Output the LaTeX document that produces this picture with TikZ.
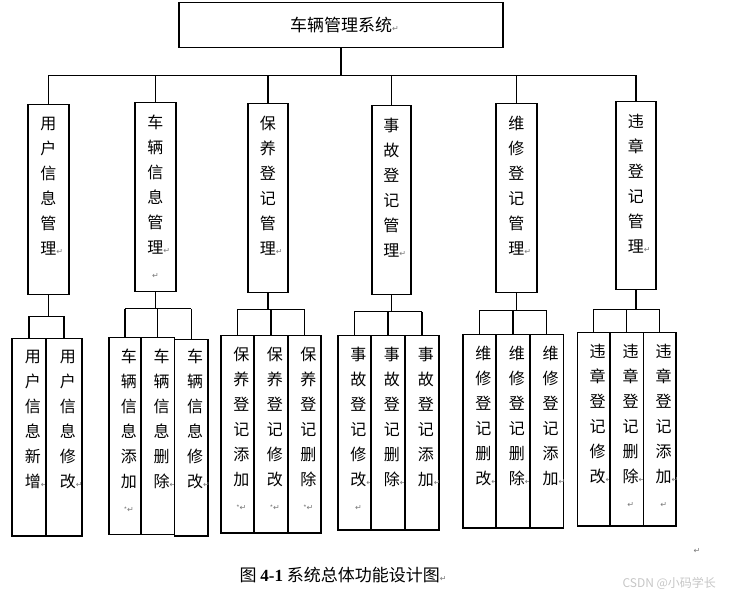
\documentclass[tikz,border=0pt]{standalone}
\usepackage{fontspec}
\setmainfont{Noto Sans CJK SC}
\newfontfamily\symfont{DejaVu Sans}
\newfontfamily\numfont{Liberation Serif}
\usetikzlibrary{calc}
\definecolor{mkGray}{RGB}{120,120,120}
% 段落标记 与 竖排文字
\newcommand{\ret}{{\symfont\fontsize{8}{8}\selectfont\color{mkGray}↵}}
\newcommand{\dotret}{{\color{mkGray}\fontsize{7}{7}\selectfont *}\ret}
\newcommand{\retline}[1]{\leavevmode\hbox to 0pt{\hss#1\hss}}
\newcommand{\vlab}[5]{\parbox[c][#1pt][t]{#2pt}{\centering\leftskip=#3pt plus 1fil\fontsize{16}{25}\selectfont\vspace*{#4pt}#5}}

\begin{document}
\begin{tikzpicture}[x=1pt, y=-1pt, font=\fontsize{16}{16}\selectfont]
\tikzset{
  sysbox/.style={draw, line width=1.2pt, inner sep=0pt, minimum width=324pt, minimum height=45pt, anchor=north west},
  modbox/.style={draw, line width=1.2pt, inner sep=0pt, anchor=north west},
  link/.style={line width=1.2pt}
}
\useasboundingbox (0,0) rectangle (729,596);
% 顶层
\node[sysbox, font=\fontsize{17}{17}\selectfont] (sys) at (178.4,2.3) {车辆管理系统\rlap{\ret}};
% 二级模块（竖排）
\node[modbox] (m1) at (27.3,104.3) {\vlab{190}{41}{0}{12.5}{用\\户\\信\\息\\管\\理\rlap{\ret}}};
\node[modbox] (m2) at (134.3,102.3) {\vlab{189}{41}{0}{12.5}{车\\辆\\信\\息\\管\\理\rlap{\ret}\\\retline{\ret}}};
\node[modbox] (m3) at (247.3,103.3) {\vlab{189}{40}{0}{12.5}{保\\养\\登\\记\\管\\理\rlap{\ret}}};
\node[modbox] (m4) at (371.3,105.3) {\vlab{189}{39}{0}{12.5}{事\\故\\登\\记\\管\\理\rlap{\ret}}};
\node[modbox] (m5) at (495.3,103.3) {\vlab{189}{41}{0}{12.5}{维\\修\\登\\记\\管\\理\rlap{\ret}}};
\node[modbox] (m6) at (615.3,101.3) {\vlab{187.7}{40}{0}{12.5}{违\\章\\登\\记\\管\\理\rlap{\ret}}};
% 子功能
\node[modbox] (l11) at (11.3,337.7) {\vlab{197.6}{34}{8}{11.5}{用\\户\\信\\息\\新\\增\rlap{\ret}}};
\node[modbox] (l12) at (45.3,337.7) {\vlab{197.6}{36}{8}{11.5}{用\\户\\信\\息\\修\\改\rlap{\ret}}};
\node[modbox] (l21) at (108.3,337.3) {\vlab{196.7}{32}{8}{11.5}{车\\辆\\信\\息\\添\\加\\\retline{\dotret}}};
\node[modbox] (l22) at (140.3,337.3) {\vlab{196.7}{33.4}{8}{11.5}{车\\辆\\信\\息\\删\\除\rlap{\ret}}};
\node[modbox] (l23) at (173.7,338.7) {\vlab{196.6}{33.6}{8}{10.1}{车\\辆\\信\\息\\修\\改\rlap{\ret}}};
\node[modbox] (l31) at (220.3,335.3) {\vlab{197}{33}{8}{11.5}{保\\养\\登\\记\\添\\加\\\retline{\dotret}}};
\node[modbox] (l32) at (253.3,335.3) {\vlab{197}{34}{8}{11.5}{保\\养\\登\\记\\修\\改\\\retline{\dotret}}};
\node[modbox] (l33) at (287.3,335.3) {\vlab{197}{33}{8}{11.5}{保\\养\\登\\记\\删\\除\\\retline{\dotret}}};
\node[modbox] (l41) at (337.3,335) {\vlab{194.3}{33}{8}{11.5}{事\\故\\登\\记\\修\\改\rlap{\ret}\\\retline{\ret}}};
\node[modbox] (l42) at (370.3,335) {\vlab{194.3}{34}{8}{11.5}{事\\故\\登\\记\\删\\除\rlap{\ret}}};
\node[modbox] (l43) at (404.3,335) {\vlab{194.3}{34}{8}{11.5}{事\\故\\登\\记\\添\\加\rlap{\ret}}};
\node[modbox] (l51) at (462.3,334.3) {\vlab{193}{33}{8}{11.5}{维\\修\\登\\记\\删\\改\rlap{\ret}}};
\node[modbox] (l52) at (495.3,334.3) {\vlab{193}{34}{8}{11.5}{维\\修\\登\\记\\删\\除\rlap{\ret}}};
\node[modbox] (l53) at (529.3,334.3) {\vlab{193}{33.4}{8}{11.5}{维\\修\\登\\记\\添\\加\rlap{\ret}}};
\node[modbox] (l61) at (576.7,332.3) {\vlab{193}{32.6}{8}{11.5}{违\\章\\登\\记\\修\\改\rlap{\ret}}};
\node[modbox] (l62) at (609.3,332.3) {\vlab{193}{33.4}{8}{11.5}{违\\章\\登\\记\\删\\除\rlap{\ret}\\\retline{\ret}}};
\node[modbox] (l63) at (642.7,332.3) {\vlab{193}{32.6}{8}{11.5}{违\\章\\登\\记\\添\\加\rlap{\ret}\\\retline{\ret}}};
% 连线：顶层 -> 二级
\coordinate (bar0) at (0,75.3);
\draw[link] (sys.south) -- (sys.south |- bar0);
\draw[link] (m1.north |- bar0) -- (m6.north |- bar0);
\foreach \i in {1,...,6}
  \draw[link] (m\i.north |- bar0) -- (m\i.north);
% 连线：二级 -> 子功能（两项 / 三项）
\coordinate (bar1) at (0,316.3);
\draw[link] (m1.south) -- (m1.south |- bar1);
\draw[link] (l11.north |- bar1) -- (l12.north |- bar1);
\foreach \j in {1,2}
  \draw[link] (l1\j.north |- bar1) -- (l1\j.north);
\foreach \g/\y in {2/308.7, 3/309.3, 4/311.7, 5/310.7, 6/309.3}{
  \coordinate (bar\g) at (0,\y);
  \draw[link] (m\g.south) -- (m\g.south |- bar\g);
  \draw[link] (l\g1.north |- bar\g) -- (l\g3.north |- bar\g);
  \foreach \j in {1,2,3}
    \draw[link] (l\g\j.north |- bar\g) -- (l\g\j.north);
}
% 图题与水印
\node[anchor=west, font=\fontsize{17}{17}\selectfont] (cap) at (236,575) {图 {\numfont\bfseries 4-1} 系统总体功能设计图\ret};
\node (endmark) at (697,551) {\ret};
\node[anchor=west, text=gray!45, font=\fontsize{12}{12}\selectfont] (wmark) at (619,583) {CSDN @小码学长};
\end{tikzpicture}
\end{document}
